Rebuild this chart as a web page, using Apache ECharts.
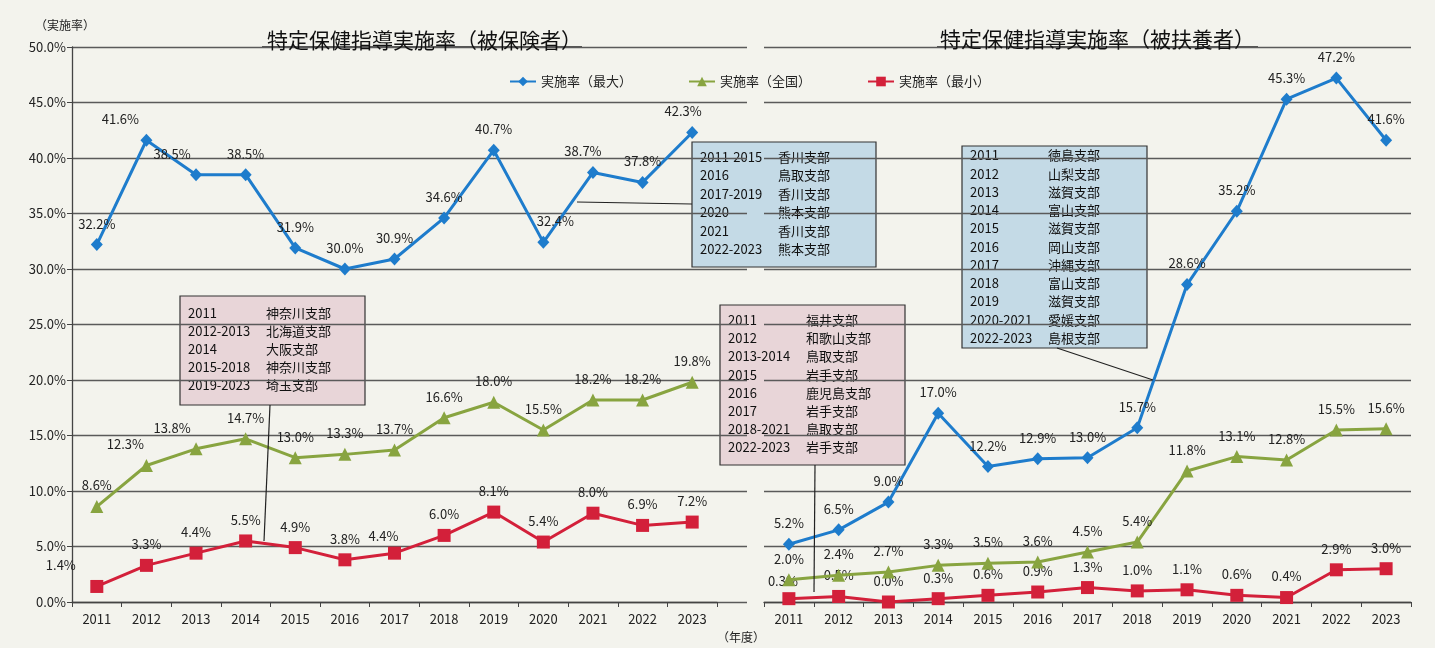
<!DOCTYPE html>
<html>
<head>
<meta charset="utf-8">
<script src="https://cdn.jsdelivr.net/npm/echarts@6/dist/echarts.min.js"></script>
<style>
  html, body { margin: 0; padding: 0; background: #f3f3ed; }
  #chart { width: 1435px; height: 648px; }
</style>
</head>
<body>
<div id="chart"></div>
<script>
// 年度
const years = ['2011', '2012', '2013', '2014', '2015', '2016', '2017', '2018', '2019', '2020', '2021', '2022', '2023'];

// 被保険者
const insuredMax = [32.2, 41.6, 38.5, 38.5, 31.9, 30.0, 30.9, 34.6, 40.7, 32.4, 38.7, 37.8, 42.3];
const insuredAll = [8.6, 12.3, 13.8, 14.7, 13.0, 13.3, 13.7, 16.6, 18.0, 15.5, 18.2, 18.2, 19.8];
const insuredMin = [1.4, 3.3, 4.4, 5.5, 4.9, 3.8, 4.4, 6.0, 8.1, 5.4, 8.0, 6.9, 7.2];

// 被扶養者
const dependentMax = [5.2, 6.5, 9.0, 17.0, 12.2, 12.9, 13.0, 15.7, 28.6, 35.2, 45.3, 47.2, 41.6];
const dependentAll = [2.0, 2.4, 2.7, 3.3, 3.5, 3.6, 4.5, 5.4, 11.8, 13.1, 12.8, 15.5, 15.6];
const dependentMin = [0.3, 0.5, 0.0, 0.3, 0.6, 0.9, 1.3, 1.0, 1.1, 0.6, 0.4, 2.9, 3.0];

const yTicks = [0, 5, 10, 15, 20, 25, 30, 35, 40, 45, 50];

// 注記（支部名）
const noteInsuredMax = [['2011-2015', '香川支部'], ['2016', '鳥取支部'], ['2017-2019', '香川支部'], ['2020', '熊本支部'], ['2021', '香川支部'], ['2022-2023', '熊本支部']];
const noteInsuredMin = [['2011', '神奈川支部'], ['2012-2013', '北海道支部'], ['2014', '大阪支部'], ['2015-2018', '神奈川支部'], ['2019-2023', '埼玉支部']];
const noteDependentMin = [['2011', '福井支部'], ['2012', '和歌山支部'], ['2013-2014', '鳥取支部'], ['2015', '岩手支部'], ['2016', '鹿児島支部'], ['2017', '岩手支部'], ['2018-2021', '鳥取支部'], ['2022-2023', '岩手支部']];
const noteDependentMax = [['2011', '徳島支部'], ['2012', '山梨支部'], ['2013', '滋賀支部'], ['2014', '富山支部'], ['2015', '滋賀支部'], ['2016', '岡山支部'], ['2017', '沖縄支部'], ['2018', '富山支部'], ['2019', '滋賀支部'], ['2020-2021', '愛媛支部'], ['2022-2023', '島根支部']];

const FONT = '"Noto Sans CJK JP", "Noto Sans", sans-serif';
const BLUE = '#1e7ccc';
const GREEN = '#88a440';
const RED = '#d3203a';
const GRID_LINE = '#5a5a5a';

// ラベル位置の微調整（手で動かしたラベル）
const nudges = {
    insuredMax: { '2012': [-26, 0], '2013': [-24, 0], '2020': [12, 0], '2021': [-10, 0], '2023': [-9, 0] },
    insuredAll: { '2012': [-21, 0], '2013': [-24, 0] },
    insuredMin: { '2011': [-36, 0], '2017': [-11, 4] },
    dependentMin: { '2011': [-6, 3] }
};

function withNudge(values, key) {
    const n = nudges[key] || {};
    return values.map((v, i) => n[years[i]] ? { value: v, label: { offset: n[years[i]] } } : v);
}

function lineSeries(name, values, key, color, symbol, size, side) {
    return {
        name: name,
        type: 'line',
        xAxisIndex: side,
        yAxisIndex: side,
        data: withNudge(values, key),
        symbol: symbol,
        symbolSize: size,
        lineStyle: { color: color, width: 3 },
        itemStyle: { color: color },
        label: {
            show: true,
            position: 'top',
            distance: 8,
            fontSize: 13,
            fontFamily: FONT,
            color: '#222',
            formatter: p => p.value.toFixed(1) + '%'
        },
        z: symbol === 'rect' ? 3 : 4
    };
}

function noteBox(x, y, w, h, fill, lines, lineTop, lineGap) {
    const children = [{
        type: 'rect',
        shape: { x: x, y: y, width: w, height: h },
        style: { fill: fill, stroke: '#333', lineWidth: 1.2 }
    }];
    lines.forEach((l, i) => {
        const ty = lineTop + i * lineGap;
        children.push({ type: 'text', x: x + 8, y: ty, style: { text: l[0], font: '13px ' + FONT, fill: '#111', verticalAlign: 'middle' } });
        children.push({ type: 'text', x: x + 86, y: ty, style: { text: l[1], font: '13px ' + FONT, fill: '#111', verticalAlign: 'middle' } });
    });
    return { type: 'group', children: children, z: 10 };
}

function leader(x1, y1, x2, y2) {
    return { type: 'line', shape: { x1: x1, y1: y1, x2: x2, y2: y2 }, style: { stroke: '#222', lineWidth: 1.2 }, z: 9 };
}

const valueAxisBase = {
    type: 'value',
    min: yTicks[0],
    max: yTicks[yTicks.length - 1],
    interval: 5
};

const categoryAxisBase = {
    type: 'category',
    data: years,
    boundaryGap: true,
    axisLine: { show: true, lineStyle: { color: '#444', width: 1.3 } },
    axisTick: { show: true, length: 5, lineStyle: { color: '#444' } },
    axisLabel: { fontSize: 13, fontFamily: FONT, color: '#222', margin: 11 }
};

const chart = echarts.init(document.getElementById('chart'));
chart.setOption({
    animation: false,
    backgroundColor: '#f3f3ed',
    textStyle: { fontFamily: FONT },
    title: [
        { text: '特定保健指導実施率（被保険者）', left: 262, top: 25, textStyle: { fontSize: 21, fontWeight: 'normal', color: '#111', fontFamily: FONT } },
        { text: '特定保健指導実施率（被扶養者）', left: 935, top: 24, textStyle: { fontSize: 21, fontWeight: 'normal', color: '#111', fontFamily: FONT } },
        { text: '（実施率）', left: 30, top: 14, textStyle: { fontSize: 12, fontWeight: 'normal', color: '#222', fontFamily: FONT } },
        { text: '（年度）', left: 712, top: 626, textStyle: { fontSize: 12, fontWeight: 'normal', color: '#222', fontFamily: FONT } }
    ],
    legend: {
        data: ['実施率（最大）', '実施率（全国）', '実施率（最小）'],
        left: 504,
        top: 70,
        itemWidth: 26,
        itemHeight: 12,
        itemGap: 56,
        textStyle: { fontSize: 13, color: '#222', fontFamily: FONT }
    },
    grid: [
        { left: 72, right: 1435 - 747, top: 47, bottom: 648 - 602 },
        { left: 72, right: 1435 - 717, top: 47, bottom: 648 - 602 },
        { left: 764, right: 1435 - 1411, top: 47, bottom: 648 - 602 }
    ],
    xAxis: [
        { type: 'value', gridIndex: 0, show: false },
        Object.assign({}, categoryAxisBase, { gridIndex: 1 }),
        Object.assign({}, categoryAxisBase, { gridIndex: 2 })
    ],
    yAxis: [
        Object.assign({}, valueAxisBase, {
            gridIndex: 0,
            axisLine: { show: true, lineStyle: { color: '#444', width: 1.3 } },
            axisTick: { show: true, length: 5, lineStyle: { color: '#444' } },
            axisLabel: { fontSize: 13, fontFamily: FONT, color: '#222', margin: 6, formatter: v => v.toFixed(1) + '%' },
            splitLine: { show: true, lineStyle: { color: GRID_LINE, width: 1.4 } }
        }),
        Object.assign({}, valueAxisBase, { gridIndex: 1, show: false }),
        Object.assign({}, valueAxisBase, {
            gridIndex: 2,
            axisLine: { show: false },
            axisTick: { show: false },
            axisLabel: { show: false },
            splitLine: { show: true, lineStyle: { color: GRID_LINE, width: 1.4 } }
        })
    ],
    series: [
        lineSeries('実施率（最大）', insuredMax, 'insuredMax', BLUE, 'diamond', [12, 13], 1),
        lineSeries('実施率（全国）', insuredAll, 'insuredAll', GREEN, 'triangle', 13, 1),
        lineSeries('実施率（最小）', insuredMin, 'insuredMin', RED, 'rect', 13, 1),
        lineSeries('実施率（最大）', dependentMax, 'dependentMax', BLUE, 'diamond', [12, 13], 2),
        lineSeries('実施率（全国）', dependentAll, 'dependentAll', GREEN, 'triangle', 13, 2),
        lineSeries('実施率（最小）', dependentMin, 'dependentMin', RED, 'rect', 13, 2)
    ],
    graphic: [
        { type: 'line', shape: { x1: 262, y1: 47, x2: 582, y2: 47 }, style: { stroke: '#222', lineWidth: 1.5 } },
        { type: 'line', shape: { x1: 937, y1: 47, x2: 1258, y2: 47 }, style: { stroke: '#222', lineWidth: 1.5 } },
        leader(577, 202, 692, 204),
        leader(270, 405, 264, 541),
        leader(815, 465, 814, 592),
        leader(1057, 348, 1153, 380),
        noteBox(692, 142, 184, 125, '#c4dae6', noteInsuredMax, 157, 18.4),
        noteBox(180, 296, 185, 109, '#e8d5d8', noteInsuredMin, 313, 18),
        noteBox(720, 305, 185, 160, '#e8d5d8', noteDependentMin, 320, 18.2),
        noteBox(962, 146, 185, 202, '#c4dae6', noteDependentMax, 155.5, 18.25)
    ]
});
</script>
</body>
</html>
